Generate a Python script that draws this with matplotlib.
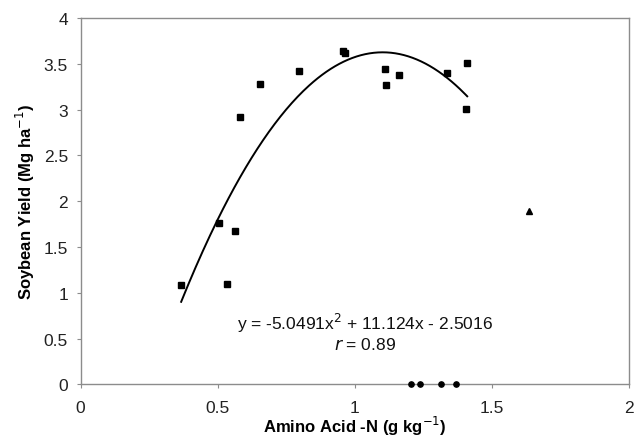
import numpy as np
import matplotlib
matplotlib.use("Agg")
import matplotlib.pyplot as plt

plt.rcParams['font.family'] = ['Liberation Sans', 'DejaVu Sans']

# Data
sq_x = [0.365, 0.505, 0.533, 0.565, 0.582, 0.654, 0.796, 0.956, 0.966,
        1.112, 1.113, 1.161, 1.336, 1.405, 1.410]
sq_y = [1.085, 1.76, 1.09, 1.67, 2.915, 3.28, 3.42, 3.64, 3.62,
        3.44, 3.27, 3.38, 3.40, 3.01, 3.51]
circ_x = [1.204, 1.238, 1.313, 1.368]
circ_y = [0.0, 0.0, 0.0, 0.0]
tri_x = [1.636]
tri_y = [1.89]

coef = [-5.0491, 11.124, -2.5016]
fit_range = [0.367, 1.41]

fig = plt.figure(figsize=(6.35, 4.39), dpi=100)
ax = fig.add_axes([0.1268, 0.1223, 0.9906 - 0.1268, 0.9567 - 0.1223])

xs = np.linspace(fit_range[0], fit_range[1], 200)
ax.plot(xs, np.polyval(coef, xs), color='black', lw=1.4, zorder=2)

ax.plot(sq_x, sq_y, 's', color='black', ms=4.3, zorder=3, clip_on=False)
ax.plot(circ_x, circ_y, 'o', color='black', ms=3.8, zorder=3, clip_on=False)
ax.plot(tri_x, tri_y, '^', color='black', ms=4.0, zorder=3, clip_on=False)

ax.set_xlim(0, 2)
ax.set_ylim(0, 4)
ax.set_xticks([0, 0.5, 1, 1.5, 2])
ax.set_xticklabels(['0', '0.5', '1', '1.5', '2'])
ax.set_yticks([0, 0.5, 1, 1.5, 2, 2.5, 3, 3.5, 4])
ax.set_yticklabels(['0', '0.5', '1', '1.5', '2', '2.5', '3', '3.5', '4'])

for s in ax.spines.values():
    s.set_color('#8c8c8c')
    s.set_linewidth(1.0)

ax.tick_params(axis='both', colors='#8c8c8c', labelcolor='#222222',
               labelsize=12.5, length=3, width=0.8, direction='out')
ax.tick_params(axis='x', pad=8)
ax.tick_params(axis='y', pad=6)

ax.set_xlabel('Amino Acid -N (g kg$^{-1}$)', fontsize=12, fontweight='bold')
ax.xaxis.set_label_coords(0.5, -0.131)
ax.xaxis.label.set_va('baseline')
ax.set_ylabel('Soybean Yield (Mg ha$^{-1}$)', fontsize=12, fontweight='bold')
ax.yaxis.set_label_coords(-0.101, 0.5)
ax.yaxis.label.set_va('center')

ax.text(1.036, 0.68, 'y = -5.0491x$^{2}$ + 11.124x - 2.5016', ha='center',
        va='center', fontsize=12.5, color='#111111')
ax.text(1.036, 0.44, '$\\it{r}$ = 0.89', ha='center', va='center',
        fontsize=12.5, color='#111111')

fig.savefig('out.png', dpi=100)
